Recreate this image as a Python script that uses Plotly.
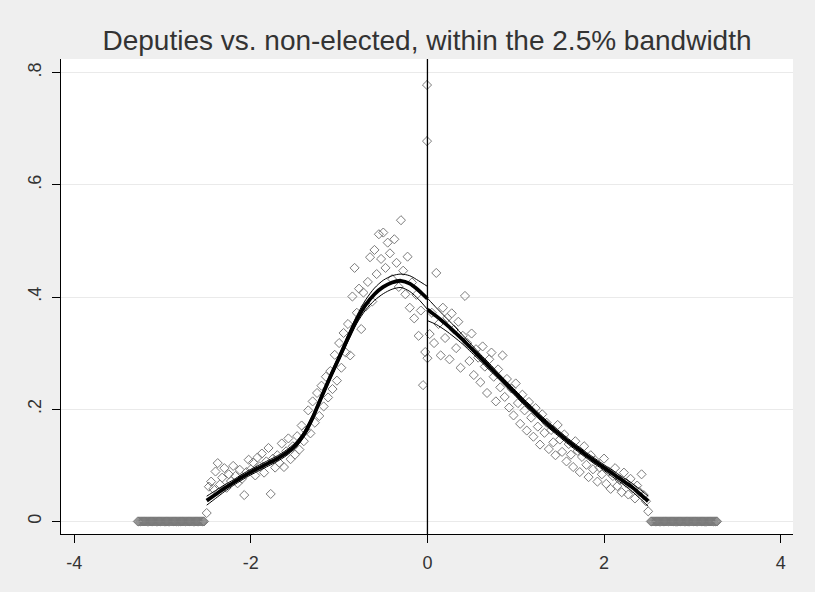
import plotly.graph_objects as go

# ---------------- data ----------------
left_x = [-2.500, -2.475, -2.450, -2.425, -2.400, -2.375, -2.350, -2.325, -2.300, -2.275,
          -2.250, -2.225, -2.200, -2.175, -2.150, -2.125, -2.100, -2.075, -2.050, -2.025,
          -2.000, -1.975, -1.950, -1.925, -1.900, -1.875, -1.850, -1.825, -1.800, -1.775,
          -1.750, -1.725, -1.700, -1.675, -1.650, -1.625, -1.600, -1.575, -1.550, -1.525,
          -1.500, -1.475, -1.450, -1.425, -1.400, -1.375, -1.350, -1.325, -1.300, -1.275,
          -1.250, -1.225, -1.200, -1.175, -1.150, -1.125, -1.100, -1.075, -1.050, -1.025,
          -1.000, -0.975, -0.950, -0.925, -0.900, -0.875, -0.850, -0.825, -0.800, -0.775,
          -0.750, -0.725, -0.700, -0.675, -0.650, -0.625, -0.600, -0.575, -0.550, -0.525,
          -0.500, -0.475, -0.450, -0.425, -0.400, -0.375, -0.350, -0.325, -0.300, -0.275,
          -0.250, -0.225, -0.200, -0.175, -0.150, -0.125, -0.100, -0.075, -0.050, -0.025,
          -0.005, -0.005]
left_y = [0.015, 0.062, 0.071, 0.058, 0.089, 0.104, 0.066, 0.078, 0.095, 0.060,
          0.084, 0.072, 0.099, 0.081, 0.068, 0.092, 0.076, 0.047, 0.088, 0.110,
          0.093, 0.105, 0.082, 0.114, 0.098, 0.121, 0.087, 0.107, 0.131, 0.049,
          0.112, 0.096, 0.118, 0.104, 0.139, 0.097, 0.125, 0.148, 0.111, 0.134,
          0.119, 0.152, 0.128, 0.171, 0.143, 0.162, 0.198, 0.157, 0.214, 0.176,
          0.229, 0.188, 0.242, 0.205, 0.258, 0.221, 0.268, 0.236, 0.297, 0.251,
          0.318, 0.274, 0.336, 0.301, 0.352, 0.296, 0.401, 0.452, 0.372, 0.415,
          0.343, 0.408, 0.383, 0.427, 0.471, 0.392, 0.484, 0.441, 0.512, 0.468,
          0.515, 0.452, 0.497, 0.478, 0.432, 0.503, 0.461, 0.418, 0.537, 0.447,
          0.405, 0.472, 0.381, 0.426, 0.362, 0.404, 0.331, 0.376, 0.243, 0.302,
          0.778, 0.678]

right_x = [0.000, 0.025, 0.050, 0.075, 0.100, 0.125, 0.150, 0.175, 0.200, 0.225,
           0.250, 0.275, 0.300, 0.325, 0.350, 0.375, 0.400, 0.425, 0.450, 0.475,
           0.500, 0.525, 0.550, 0.575, 0.600, 0.625, 0.650, 0.675, 0.700, 0.725,
           0.750, 0.775, 0.800, 0.825, 0.850, 0.875, 0.900, 0.925, 0.950, 0.975,
           1.000, 1.025, 1.050, 1.075, 1.100, 1.125, 1.150, 1.175, 1.200, 1.225,
           1.250, 1.275, 1.300, 1.325, 1.350, 1.375, 1.400, 1.425, 1.450, 1.475,
           1.500, 1.525, 1.550, 1.575, 1.600, 1.625, 1.650, 1.675, 1.700, 1.725,
           1.750, 1.775, 1.800, 1.825, 1.850, 1.875, 1.900, 1.925, 1.950, 1.975,
           2.000, 2.025, 2.050, 2.075, 2.100, 2.125, 2.150, 2.175, 2.200, 2.225,
           2.250, 2.275, 2.300, 2.325, 2.350, 2.375, 2.400, 2.425, 2.450, 2.475,
           2.500]
right_y = [0.291, 0.334, 0.372, 0.318, 0.443, 0.352, 0.296, 0.381, 0.327, 0.363,
           0.289, 0.371, 0.342, 0.309, 0.356, 0.274, 0.331, 0.402, 0.318, 0.286,
           0.335, 0.261, 0.307, 0.292, 0.248, 0.312, 0.276, 0.229, 0.289, 0.301,
           0.258, 0.214, 0.271, 0.239, 0.296, 0.222, 0.254, 0.203, 0.237, 0.189,
           0.246, 0.211, 0.174, 0.226, 0.198, 0.162, 0.213, 0.185, 0.151, 0.202,
           0.169, 0.137, 0.191, 0.158, 0.176, 0.129, 0.163, 0.141, 0.118, 0.172,
           0.146, 0.124, 0.155, 0.107, 0.138, 0.119, 0.097, 0.143, 0.126, 0.088,
           0.115, 0.134, 0.101, 0.079, 0.118, 0.093, 0.109, 0.071, 0.096, 0.084,
           0.112, 0.067, 0.089, 0.058, 0.081, 0.095, 0.063, 0.074, 0.052, 0.087,
           0.069, 0.048, 0.076, 0.059, 0.041, 0.064, 0.053, 0.084, 0.047, 0.036,
           0.018]

zero_left_x = [-3.28, -3.27, -3.26, -3.25, -3.24, -3.23, -3.22, -3.21, -3.20, -3.19,
               -3.18, -3.17, -3.16, -3.15, -3.14, -3.13, -3.12, -3.11, -3.10, -3.09,
               -3.08, -3.07, -3.06, -3.05, -3.04, -3.03, -3.02, -3.01, -3.00, -2.99,
               -2.98, -2.97, -2.96, -2.95, -2.94, -2.93, -2.92, -2.91, -2.90, -2.89,
               -2.88, -2.87, -2.86, -2.85, -2.84, -2.83, -2.82, -2.81, -2.80, -2.79,
               -2.78, -2.77, -2.76, -2.75, -2.74, -2.73, -2.72, -2.71, -2.70, -2.69,
               -2.68, -2.67, -2.66, -2.65, -2.64, -2.63, -2.62, -2.61, -2.60, -2.59,
               -2.58, -2.57, -2.56, -2.55, -2.54, -2.53]
zero_right_x = [2.53, 2.54, 2.55, 2.56, 2.57, 2.58, 2.59, 2.60, 2.61, 2.62,
                2.63, 2.64, 2.65, 2.66, 2.67, 2.68, 2.69, 2.70, 2.71, 2.72,
                2.73, 2.74, 2.75, 2.76, 2.77, 2.78, 2.79, 2.80, 2.81, 2.82,
                2.83, 2.84, 2.85, 2.86, 2.87, 2.88, 2.89, 2.90, 2.91, 2.92,
                2.93, 2.94, 2.95, 2.96, 2.97, 2.98, 2.99, 3.00, 3.01, 3.02,
                3.03, 3.04, 3.05, 3.06, 3.07, 3.08, 3.09, 3.10, 3.11, 3.12,
                3.13, 3.14, 3.15, 3.16, 3.17, 3.18, 3.19, 3.20, 3.21, 3.22,
                3.23, 3.24, 3.25, 3.26, 3.27, 3.28]
zero_left_y = [0.0] * len(zero_left_x)
zero_right_y = [0.0] * len(zero_right_x)

fitL_x = [-2.5, -2.4, -2.3, -2.2, -2.1, -2.0, -1.9, -1.8, -1.7, -1.6, -1.5, -1.4, -1.3,
          -1.2, -1.1, -1.0, -0.9, -0.8, -0.7, -0.6, -0.5, -0.4, -0.3, -0.2, -0.1, 0.0]
fitL_mid = [0.037, 0.048, 0.059, 0.069, 0.079, 0.088, 0.096, 0.104, 0.112, 0.122, 0.135, 0.155, 0.185,
            0.222, 0.258, 0.292, 0.327, 0.360, 0.386, 0.405, 0.418, 0.426, 0.429, 0.424, 0.412, 0.397]
fitL_hi = [0.045, 0.055, 0.065, 0.074, 0.084, 0.093, 0.101, 0.109, 0.117, 0.127, 0.140, 0.160, 0.190,
           0.227, 0.263, 0.297, 0.333, 0.367, 0.395, 0.416, 0.430, 0.438, 0.441, 0.438, 0.429, 0.419]
fitL_lo = [0.029, 0.041, 0.053, 0.064, 0.074, 0.083, 0.091, 0.099, 0.107, 0.117, 0.130, 0.150, 0.180,
           0.217, 0.253, 0.287, 0.321, 0.353, 0.377, 0.394, 0.406, 0.414, 0.417, 0.410, 0.396, 0.378]

fitR_x = [0.0, 0.1, 0.2, 0.3, 0.4, 0.5, 0.6, 0.7, 0.8, 0.9, 1.0, 1.1, 1.2,
          1.3, 1.4, 1.5, 1.6, 1.7, 1.8, 1.9, 2.0, 2.1, 2.2, 2.3, 2.4, 2.5]
fitR_mid = [0.378, 0.366, 0.353, 0.339, 0.324, 0.308, 0.292, 0.276, 0.260, 0.244, 0.228, 0.212, 0.197,
            0.182, 0.168, 0.155, 0.142, 0.130, 0.118, 0.107, 0.096, 0.085, 0.074, 0.063, 0.050, 0.036]
fitR_hi = [0.398, 0.381, 0.365, 0.349, 0.332, 0.315, 0.298, 0.282, 0.265, 0.249, 0.233, 0.217, 0.202,
           0.187, 0.173, 0.160, 0.147, 0.135, 0.123, 0.112, 0.101, 0.091, 0.080, 0.070, 0.058, 0.045]
fitR_lo = [0.358, 0.351, 0.341, 0.329, 0.316, 0.301, 0.286, 0.270, 0.255, 0.239, 0.223, 0.207, 0.192,
           0.177, 0.163, 0.150, 0.137, 0.125, 0.113, 0.102, 0.091, 0.079, 0.068, 0.056, 0.042, 0.027]

x_ticks = [-4, -2, 0, 2, 4]
y_ticks = [0, 0.2, 0.4, 0.6, 0.8]
y_tick_text = ["0", ".2", ".4", ".6", ".8"]
title_text = "Deputies vs. non-elected, within the 2.5% bandwidth"

# ---------------- figure ----------------
GRAY = "#7a7a7a"
TICK_FONT = "Liberation Sans Narrow, Arial Narrow, Liberation Sans, Arial, sans-serif"

fig = go.Figure()

marker = dict(symbol="diamond-open", size=7, color=GRAY, line=dict(width=1, color=GRAY))
for xs, ys in [(zero_left_x, zero_left_y), (zero_right_x, zero_right_y),
               (left_x, left_y), (right_x, right_y)]:
    fig.add_trace(go.Scatter(x=xs, y=ys, mode="markers", marker=marker,
                             showlegend=False, hoverinfo="skip"))

for xs, ys, w in [(fitL_x, fitL_hi, 1), (fitL_x, fitL_lo, 1), (fitL_x, fitL_mid, 3.8),
                  (fitR_x, fitR_hi, 1), (fitR_x, fitR_lo, 1), (fitR_x, fitR_mid, 3.8)]:
    fig.add_trace(go.Scatter(x=xs, y=ys, mode="lines",
                             line=dict(color="black", width=w, shape="spline", smoothing=0.8),
                             showlegend=False, hoverinfo="skip"))

fig.add_shape(type="line", xref="x", yref="paper", x0=0, x1=0, y0=0, y1=1,
              line=dict(color="black", width=1.3))

fig.update_layout(
    width=815, height=592,
    margin=dict(l=61, r=22, t=59, b=58),
    paper_bgcolor="#efefef",
    plot_bgcolor="white",
    title=dict(text=title_text, x=0.5, xref="paper", xanchor="center",
               y=1 - 40 / 592, yref="container", yanchor="middle",
               font=dict(family="Liberation Sans, Arial, sans-serif", size=28, color="#333333")),
    xaxis=dict(range=[-4.15, 4.14], tickvals=x_ticks, ticktext=[str(v) for v in x_ticks],
               showgrid=False, zeroline=False, showline=True, linecolor="black", linewidth=1.3,
               ticks="outside", ticklen=8, tickcolor="black", tickwidth=1.3,
               ticklabelstandoff=4,
               tickfont=dict(family=TICK_FONT, size=18, color="#333333")),
    yaxis=dict(range=[-0.0224, 0.8244], tickvals=y_ticks, ticktext=y_tick_text,
               showgrid=True, gridcolor="#eaeaea", gridwidth=1, zeroline=False,
               showline=True, linecolor="black", linewidth=1.3,
               ticks="outside", ticklen=8, tickcolor="black", tickwidth=1.3,
               tickangle=-90, ticklabelstandoff=4,
               tickfont=dict(family=TICK_FONT, size=18, color="#333333")),
)

fig.write_html("out.html", config={"displayModeBar": False})
